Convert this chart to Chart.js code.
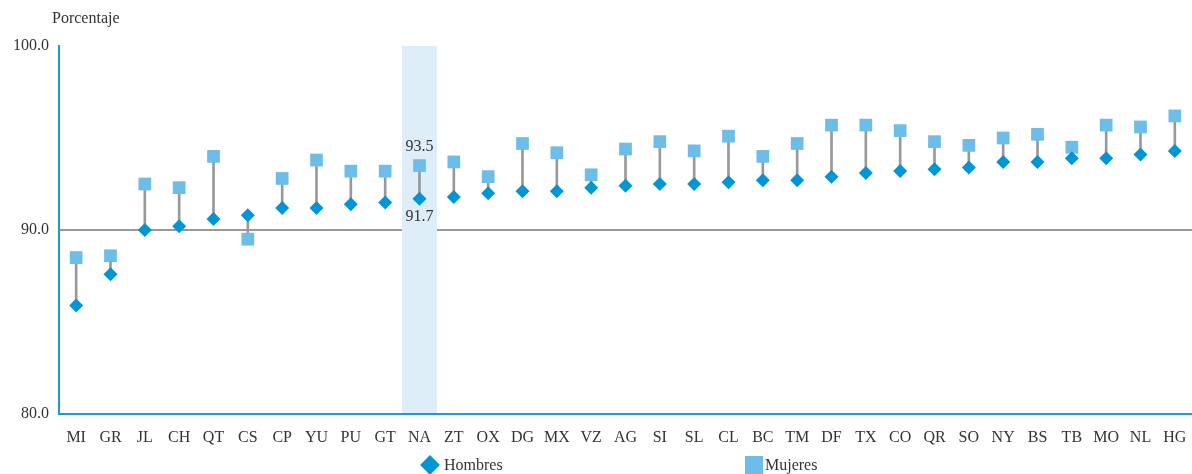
<!DOCTYPE html>
<html>
<head>
<meta charset="utf-8">
<script src="https://cdn.jsdelivr.net/npm/chart.js@4.4.0/dist/chart.umd.min.js"></script>
<style>
  html, body { margin: 0; padding: 0; background: #fff; }
  #wrap { position: relative; width: 1192px; height: 474px; font-family: 'Liberation Serif', serif; color: #333; }
  #ytitle { position: absolute; left: 52px; top: 9px; font-size: 16px; }
  .ley { position: absolute; top: 456px; font-size: 16px; line-height: 18px; }
  .rombo { position: absolute; width: 14px; height: 14px; background: #0096d6; transform: rotate(45deg); }
  .cuadro { position: absolute; width: 18px; height: 18px; background: #6cbde7; }
</style>
</head>
<body>
<div id="wrap">
  <canvas id="chart" width="1192" height="474"></canvas>
  <div id="ytitle">Porcentaje</div>
  <div class="rombo" style="left:423px;top:458px"></div>
  <div class="ley" style="left:444px">Hombres</div>
  <div class="cuadro" style="left:745px;top:456px"></div>
  <div class="ley" style="left:765px">Mujeres</div>
</div>
<script>
'use strict';
const estados = ['MI', 'GR', 'JL', 'CH', 'QT', 'CS', 'CP', 'YU', 'PU', 'GT', 'NA', 'ZT', 'OX', 'DG', 'MX', 'VZ', 'AG', 'SI', 'SL', 'CL', 'BC', 'TM', 'DF', 'TX', 'CO', 'QR', 'SO', 'NY', 'BS', 'TB', 'MO', 'NL', 'HG'];
const hombres = [85.9, 87.6, 90.0, 90.2, 90.6, 90.8, 91.2, 91.2, 91.4, 91.5, 91.7, 91.8, 92.0, 92.1, 92.1, 92.3, 92.4, 92.5, 92.5, 92.6, 92.7, 92.7, 92.9, 93.1, 93.2, 93.3, 93.4, 93.7, 93.7, 93.9, 93.9, 94.1, 94.3];
const mujeres = [88.5, 88.6, 92.5, 92.3, 94.0, 89.5, 92.8, 93.8, 93.2, 93.2, 93.5, 93.7, 92.9, 94.7, 94.2, 93.0, 94.4, 94.8, 94.3, 95.1, 94.0, 94.7, 95.7, 95.7, 95.4, 94.8, 94.6, 95.0, 95.2, 94.5, 95.7, 95.6, 96.2];
const ticksY = [80, 90, 100];
const destacado = 'NA';

const azulEje = '#1c9ad6';
const gris = '#999999';

// etiquetas del total nacional
const etiquetasNA = {
  id: 'etiquetasNA',
  afterDatasetsDraw(chart) {
    const i = estados.indexOf(destacado);
    const ctx = chart.ctx;
    const pm = chart.getDatasetMeta(1).data[i];
    const ph = chart.getDatasetMeta(0).data[i];
    ctx.save();
    ctx.font = '16px "Liberation Serif", serif';
    ctx.fillStyle = '#333';
    ctx.textAlign = 'center';
    ctx.textBaseline = 'middle';
    ctx.fillText(mujeres[i].toFixed(1), pm.x, pm.y - 19);
    ctx.fillText(hombres[i].toFixed(1), ph.x, ph.y + 18);
    ctx.restore();
  }
};

new Chart(document.getElementById('chart'), {
  type: 'bar',
  data: {
    labels: estados,
    datasets: [
      {
        type: 'line',
        label: 'Hombres',
        data: hombres,
        showLine: false,
        pointStyle: 'rectRot',
        pointRadius: 7,
        pointBackgroundColor: '#0096d6',
        pointBorderWidth: 0,
        order: 1
      },
      {
        type: 'line',
        label: 'Mujeres',
        data: mujeres,
        showLine: false,
        pointStyle: 'rect',
        pointRadius: 9,
        pointBackgroundColor: '#6cbde7',
        pointBorderWidth: 0,
        order: 2
      },
      {
        label: 'brecha',
        data: mujeres.map((m, i) => [m, hombres[i]]),
        backgroundColor: gris,
        barThickness: 2,
        grouped: false,
        order: 3
      },
      {
        label: 'nacional',
        data: estados.map(e => e === destacado ? [ticksY[0], ticksY[ticksY.length - 1]] : null),
        backgroundColor: '#ddeef8',
        barPercentage: 1,
        categoryPercentage: 1,
        grouped: false,
        order: 4
      }
    ]
  },
  options: {
    responsive: false,
    animation: false,
    layout: { autoPadding: false, padding: { top: 46, left: 0, right: 0, bottom: 24 } },
    plugins: {
      legend: { display: false },
      tooltip: { enabled: false }
    },
    scales: {
      x: {
        offset: true,
        grid: { display: false },
        border: { display: true, color: azulEje, width: 2, z: 1 },
        ticks: {
          color: '#333',
          font: { family: '"Liberation Serif", serif', size: 16 },
          padding: 6,
          maxRotation: 0,
          autoSkip: false
        },
        afterFit(scale) {
          scale.height = 36;
          scale.paddingLeft = 0;
          scale.paddingRight = 0;
        }
      },
      y: {
        min: ticksY[0],
        max: ticksY[ticksY.length - 1],
        afterBuildTicks(scale) { scale.ticks = ticksY.map(v => ({ value: v })); },
        grid: {
          color: c => c.tick && c.tick.value === 90 ? gris : 'rgba(0,0,0,0)',
          lineWidth: 2,
          drawTicks: false
        },
        border: { display: true, color: azulEje, width: 2, z: 1 },
        ticks: {
          color: '#333',
          font: { family: '"Liberation Serif", serif', size: 16 },
          padding: 10,
          callback: v => v.toFixed(1)
        },
        afterFit(scale) { scale.width = 59; }
      }
    }
  },
  plugins: [etiquetasNA]
});
</script>
</body>
</html>
